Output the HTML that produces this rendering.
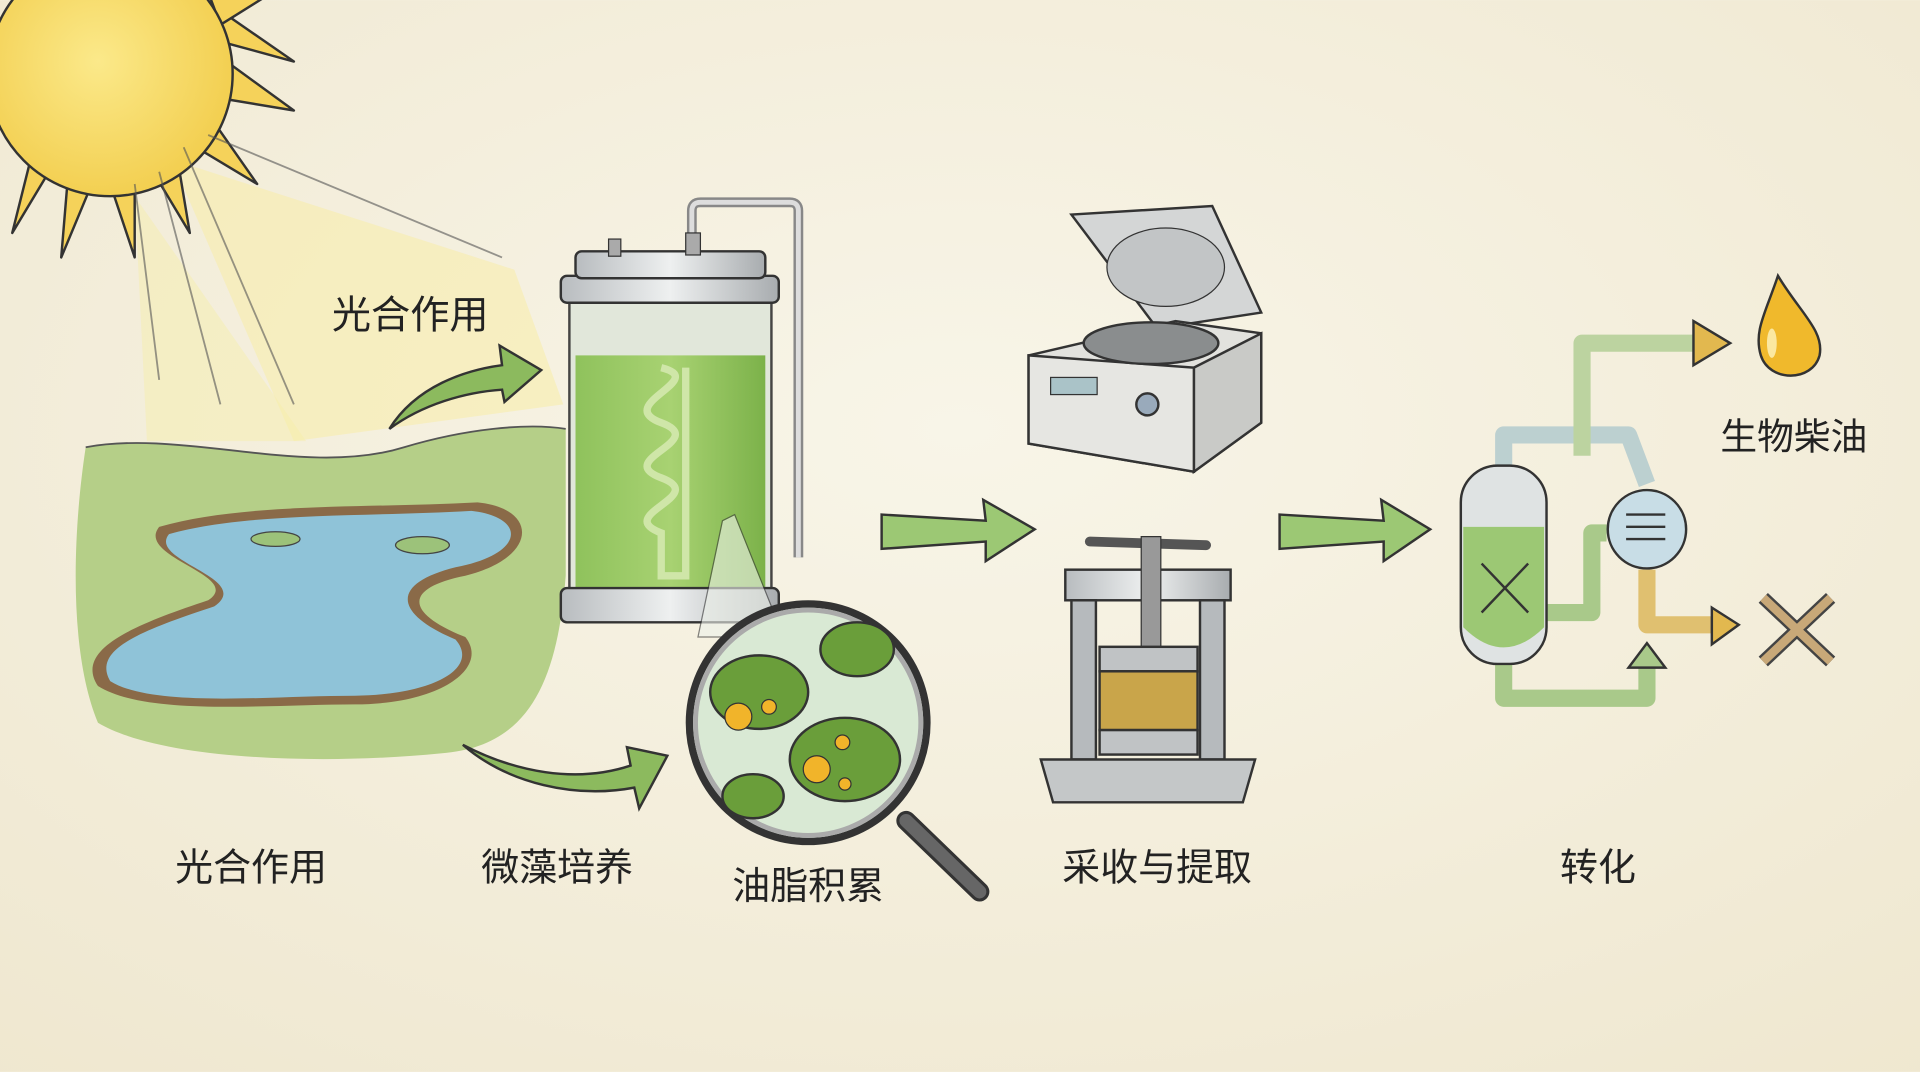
<!DOCTYPE html>
<html><head><meta charset="utf-8"><style>
html,body{margin:0;padding:0;width:1920px;height:1072px;overflow:hidden;background:#f4efdf}
svg{display:block}
text{font-family:"Liberation Sans","Noto Sans CJK SC",sans-serif;fill:#222}
</style></head><body>
<svg width="1920" height="1072" viewBox="0 0 1568 875" xmlns="http://www.w3.org/2000/svg">
<defs>
<radialGradient id="bg" cx="0.5" cy="0.4" r="0.8"><stop offset="0" stop-color="#f8f5e8"/><stop offset="1" stop-color="#efe7cf"/></radialGradient>
<radialGradient id="sun" cx="0.45" cy="0.45" r="0.6"><stop offset="0" stop-color="#fbe98a"/><stop offset="1" stop-color="#f2cd4c"/></radialGradient>
<linearGradient id="liq" x1="0" y1="0" x2="1" y2="0"><stop offset="0" stop-color="#8fc25c"/><stop offset="0.5" stop-color="#a8d272"/><stop offset="1" stop-color="#7cb24a"/></linearGradient>
<linearGradient id="metal" x1="0" y1="0" x2="1" y2="0"><stop offset="0" stop-color="#b8bcbf"/><stop offset="0.5" stop-color="#eef0f0"/><stop offset="1" stop-color="#a8acaf"/></linearGradient>
</defs>
<rect width="1568" height="875" fill="url(#bg)"/>
<!-- sun beams -->
<polygon points="140,130 420,220 460,330 240,360" fill="#f7eda8" opacity="0.55"/>
<polygon points="110,160 250,360 120,360" fill="#f7eda8" opacity="0.45"/>
<!-- sun rays -->
<g fill="#f5d25a" stroke="#333" stroke-width="2" stroke-linejoin="round">
<polygon points="175,5 240,50 185,35"/>
<polygon points="185,50 240,90 180,80"/>
<polygon points="175,100 210,150 160,120"/>
<polygon points="145,130 155,190 125,140"/>
<polygon points="110,145 110,210 90,150"/>
<polygon points="75,150 50,210 55,150"/>
<polygon points="40,140 10,190 25,130"/>
<polygon points="165,-20 220,-5 180,20"/>
</g>
<circle cx="90" cy="60" r="100" fill="url(#sun)" stroke="#333" stroke-width="2"/>
<g stroke="#555" stroke-width="1.5" opacity="0.6"><line x1="150" y1="120" x2="240" y2="330"/><line x1="130" y1="140" x2="180" y2="330"/><line x1="110" y1="150" x2="130" y2="310"/><line x1="170" y1="110" x2="410" y2="210"/></g>
<!-- land -->
<path d="M70,365 C150,350 250,390 330,365 C380,350 430,345 462,350 L462,470 C455,560 430,610 360,615 C260,625 130,620 80,590 C55,530 60,430 70,365Z" fill="#b5cf88"/>
<path d="M70,365 C150,350 250,390 330,365 C380,350 430,345 462,350" fill="none" stroke="#555" stroke-width="1.5"/>
<path d="M130,430 C200,410 300,415 390,410 C440,415 440,455 380,470 C330,480 330,500 380,520 C400,545 360,575 290,575 C220,575 120,585 80,560 C60,530 110,510 170,490 C200,470 110,455 130,430Z" fill="#8a6a48"/>
<path d="M138,436 C200,418 300,422 385,417 C430,422 430,452 372,463 C320,476 320,500 372,522 C392,545 355,567 290,568 C220,568 125,578 90,556 C75,530 115,515 175,495 C208,472 120,458 138,436Z" fill="#8fc3d8"/>
<ellipse cx="225" cy="440" rx="20" ry="6" fill="#9cc27a" stroke="#444"/>
<ellipse cx="345" cy="445" rx="22" ry="7" fill="#9cc27a" stroke="#444"/>
<!-- arrows left -->
<path d="M318,350 C340,315 380,302 410,298 L408,282 L442,302 L412,328 L410,318 C380,320 345,330 318,350Z" fill="#8cba5e" stroke="#333" stroke-width="2"/>
<path d="M378,608 C420,630 470,640 515,625 L512,610 L545,617 L522,660 L518,643 C470,652 415,640 378,608Z" fill="#8cba5e" stroke="#333" stroke-width="2"/>
<text x="335" y="268" font-size="32" text-anchor="middle">光合作用</text>
<!-- bioreactor -->
<path d="M565,210 L565,172 Q565,165 572,165 L645,165 Q652,165 652,172 L652,455" fill="none" stroke="#888" stroke-width="8"/>
<path d="M565,210 L565,172 Q565,165 572,165 L645,165 Q652,165 652,172 L652,455" fill="none" stroke="#ddd" stroke-width="4"/>
<rect x="465" y="235" width="165" height="265" rx="8" fill="#dfe6da" stroke="#333" stroke-width="2" opacity="0.9"/>
<rect x="470" y="290" width="155" height="195" fill="url(#liq)"/>
<path d="M540,300 C580,310 500,330 540,345 C580,360 500,375 540,390 C580,405 500,420 540,435 L540,470 L560,470 L560,300" fill="none" stroke="#cfe6a8" stroke-width="6"/>
<rect x="458" y="225" width="178" height="22" rx="5" fill="url(#metal)" stroke="#333" stroke-width="2"/>
<rect x="470" y="205" width="155" height="22" rx="5" fill="url(#metal)" stroke="#333" stroke-width="2"/>
<rect x="458" y="480" width="178" height="28" rx="5" fill="url(#metal)" stroke="#333" stroke-width="2"/>
<rect x="497" y="195" width="10" height="14" fill="#aaa" stroke="#333"/>
<rect x="560" y="190" width="12" height="18" fill="#aaa" stroke="#333"/>
<!-- magnifier -->
<line x1="740" y1="670" x2="800" y2="728" stroke="#333" stroke-width="16" stroke-linecap="round"/>
<line x1="740" y1="670" x2="800" y2="728" stroke="#666" stroke-width="11" stroke-linecap="round"/>
<polygon points="590,425 600,420 640,520 570,520" fill="#eef2ea" opacity="0.6" stroke="#333"/>
<circle cx="660" cy="590" r="97" fill="#d9e9d4" stroke="#333" stroke-width="6"/>
<circle cx="660" cy="590" r="92" fill="none" stroke="#aaa" stroke-width="4"/>
<ellipse cx="620" cy="565" rx="40" ry="30" fill="#6a9e3a" stroke="#333" stroke-width="2"/>
<ellipse cx="690" cy="620" rx="45" ry="34" fill="#6a9e3a" stroke="#333" stroke-width="2"/>
<ellipse cx="700" cy="530" rx="30" ry="22" fill="#6a9e3a" stroke="#333" stroke-width="2"/>
<ellipse cx="615" cy="650" rx="25" ry="18" fill="#6a9e3a" stroke="#333" stroke-width="2"/>
<g fill="#f1b42a" stroke="#333"><circle cx="603" cy="585" r="11"/><circle cx="628" cy="577" r="6"/><circle cx="667" cy="628" r="11"/><circle cx="688" cy="606" r="6"/><circle cx="690" cy="640" r="5"/></g>
<!-- mid arrows -->
<path d="M720,420 L805,425 L803,408 L845,432 L805,458 L805,442 L720,448Z" fill="#9cc874" stroke="#333" stroke-width="2"/>
<path d="M1045,420 L1130,425 L1128,408 L1168,432 L1130,458 L1130,442 L1045,448Z" fill="#9cc874" stroke="#333" stroke-width="2"/>
<!-- centrifuge -->
<polygon points="875,175 990,168 1030,255 945,268" fill="#d4d6d6" stroke="#333" stroke-width="2"/>
<ellipse cx="952" cy="218" rx="48" ry="32" fill="#c2c5c6" stroke="#333"/>
<polygon points="840,290 960,262 1030,272 1030,345 975,385 840,362" fill="#e2e2de" stroke="#333" stroke-width="2"/>
<polygon points="975,300 1030,272 1030,345 975,385" fill="#c9cac7" stroke="#333" stroke-width="2"/>
<polygon points="840,290 975,300 975,385 840,362" fill="#e6e6e2" stroke="#333" stroke-width="2"/>
<ellipse cx="940" cy="280" rx="55" ry="17" fill="#8a8d8e" stroke="#333" stroke-width="2"/>
<rect x="858" y="308" width="38" height="14" fill="#aac3c8" stroke="#333"/>
<circle cx="937" cy="330" r="9" fill="#9ab" stroke="#333" stroke-width="2"/>
<!-- press -->
<rect x="870" y="465" width="135" height="25" fill="url(#metal)" stroke="#333" stroke-width="2"/>
<rect x="875" y="490" width="20" height="130" fill="#b6babd" stroke="#333" stroke-width="2"/>
<rect x="980" y="490" width="20" height="130" fill="#b6babd" stroke="#333" stroke-width="2"/>
<line x1="890" y1="442" x2="985" y2="445" stroke="#555" stroke-width="8" stroke-linecap="round"/>
<rect x="932" y="438" width="16" height="90" fill="#999" stroke="#333"/>
<rect x="898" y="528" width="80" height="20" fill="#c0c3c5" stroke="#333" stroke-width="2"/>
<rect x="898" y="548" width="80" height="48" fill="#c9a54a" stroke="#333" stroke-width="2"/>
<rect x="898" y="596" width="80" height="20" fill="#c0c3c5" stroke="#333" stroke-width="2"/>
<polygon points="850,620 1025,620 1015,655 860,655" fill="#c4c7c8" stroke="#333" stroke-width="2"/>
<!-- conversion -->
<g fill="none" stroke-width="14" stroke-linejoin="round">
<path d="M1228,385 L1228,355 L1330,355 L1345,395" stroke="#bcd0d0"/>
<path d="M1292,372 L1292,280 L1385,280" stroke="#bcd3a0"/>
<path d="M1228,535 L1228,570 L1345,570 L1345,535" stroke="#a9c98a"/>
<path d="M1262,500 L1300,500 L1300,435 L1312,435" stroke="#a9c98a"/>
<path d="M1345,465 L1345,510 L1400,510" stroke="#e0c070"/>
</g>
<polygon points="1383,262 1413,280 1383,298" fill="#e2b84f" stroke="#333" stroke-width="2"/>
<polygon points="1398,496 1420,510 1398,526" fill="#e2b84f" stroke="#333" stroke-width="2"/>
<polygon points="1330,545 1345,525 1360,545" fill="#a9c98a" stroke="#333" stroke-width="2"/>
<rect x="1193" y="380" width="70" height="162" rx="30" fill="#dfe3e3" stroke="#333" stroke-width="2"/>
<path d="M1195,430 L1261,430 L1261,512 Q1228,545 1195,512Z" fill="#9cc874"/>
<path d="M1210,460 L1248,500 M1248,460 L1210,500" stroke="#333" stroke-width="2"/>
<circle cx="1345" cy="432" r="32" fill="#c8dde6" stroke="#333" stroke-width="2"/>
<path d="M1328,420 H1360 M1328,430 H1360 M1328,440 H1360" stroke="#333" stroke-width="2"/>
<path d="M1452,225 C1442,255 1432,270 1438,290 C1445,312 1480,312 1486,290 C1490,270 1470,255 1452,225Z" fill="#f0b92c" stroke="#333" stroke-width="2"/>
<ellipse cx="1447" cy="280" rx="4" ry="12" fill="#fbe8a0"/>
<path d="M1440,488 L1495,540 M1495,488 L1440,540" stroke="#444" stroke-width="11"/>
<path d="M1440,488 L1495,540 M1495,488 L1440,540" stroke="#c8a878" stroke-width="7"/>
<!-- labels -->
<text x="1465" y="367" font-size="30" text-anchor="middle">生物柴油</text>
<text x="205" y="719" font-size="31" text-anchor="middle">光合作用</text>
<text x="455" y="719" font-size="31" text-anchor="middle">微藻培养</text>
<text x="660" y="734" font-size="31" text-anchor="middle">油脂积累</text>
<text x="945" y="719" font-size="31" text-anchor="middle">采收与提取</text>
<text x="1305" y="719" font-size="31" text-anchor="middle">转化</text>
</svg>
</body></html>
